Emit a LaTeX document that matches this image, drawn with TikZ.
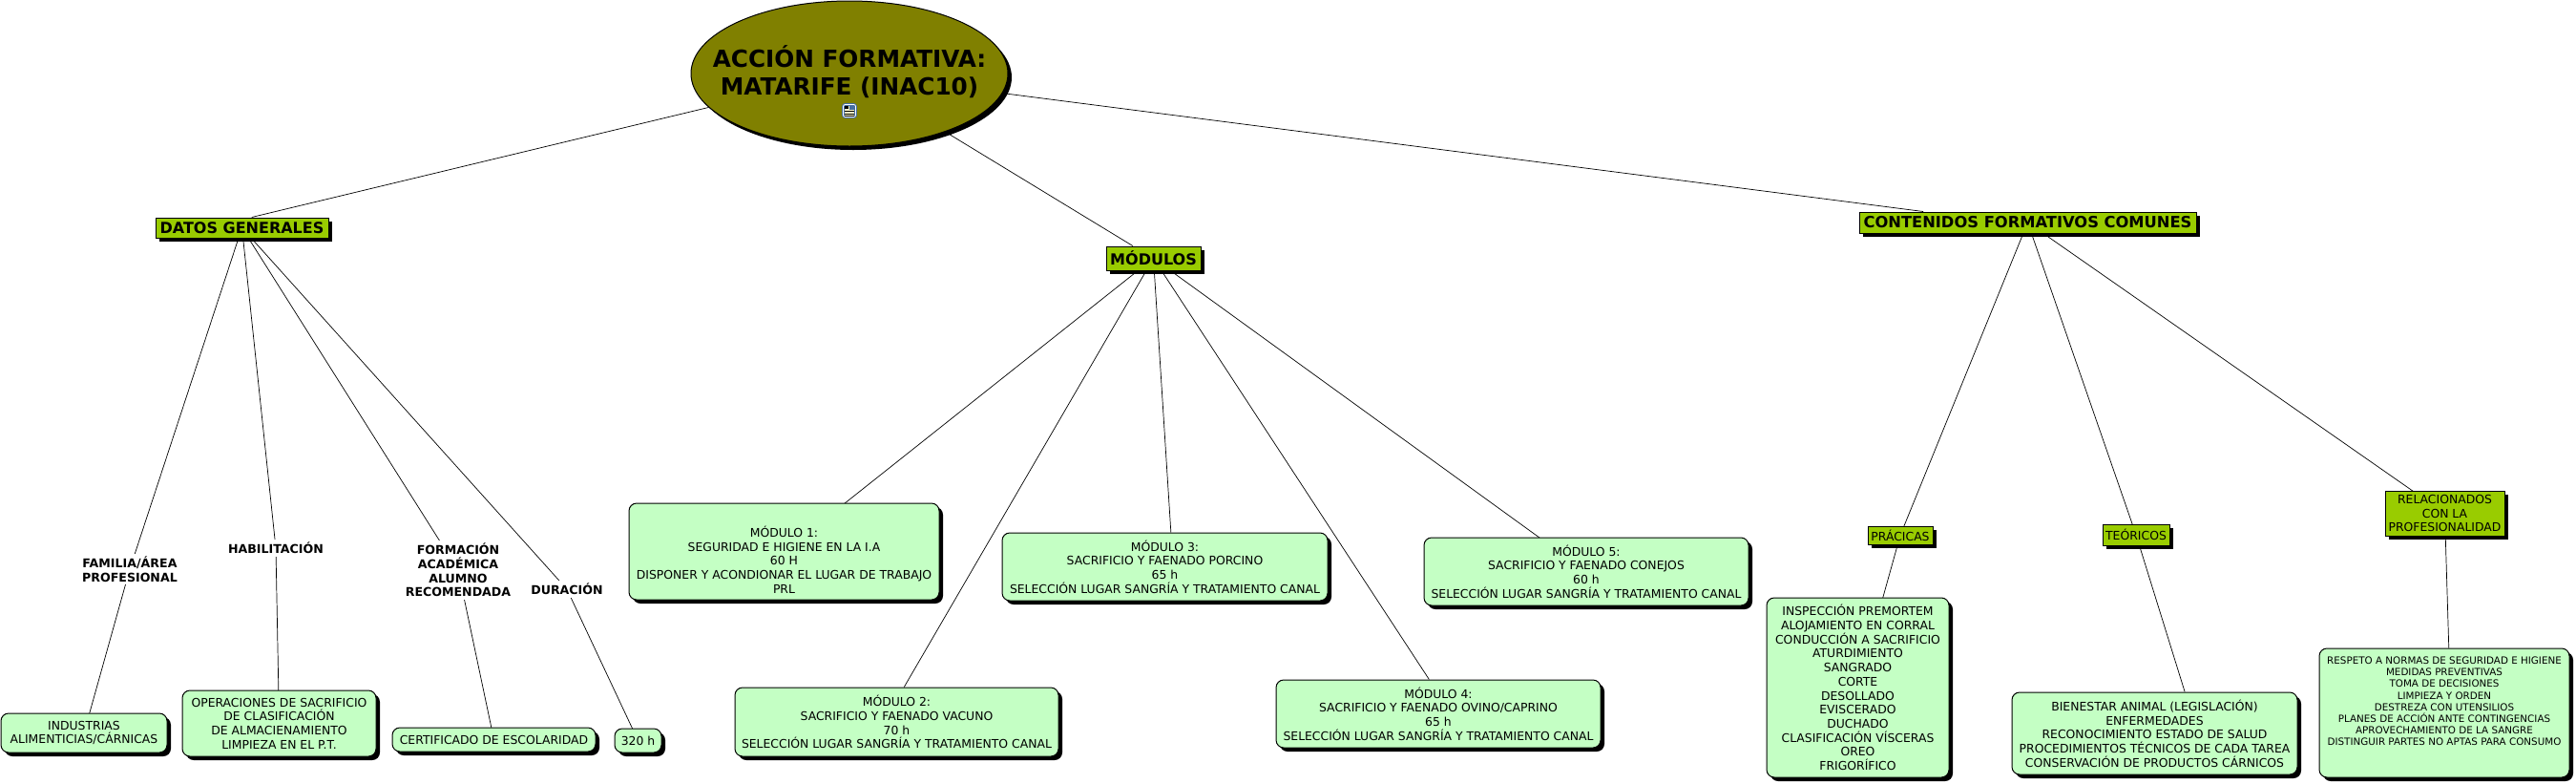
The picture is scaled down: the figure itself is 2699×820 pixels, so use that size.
\documentclass[tikz,border=0pt]{standalone}
\usepackage{fontspec}
\setmainfont{DejaVu Sans}
\usetikzlibrary{arrows.meta, shapes.geometric, shadows, backgrounds}
\definecolor{rootolive}{RGB}{128, 128, 0}
\definecolor{topicgreen}{RGB}{153, 204, 0}
\definecolor{leafgreen}{RGB}{196, 255, 196}
\definecolor{iconblue}{RGB}{70, 110, 160}
\definecolor{iconpaper}{RGB}{255, 250, 200}

\begin{document}
\begin{tikzpicture}[
  x=1pt, y=-1pt,
  every node/.style={inner sep=0pt, align=center, text=black},
  blackshadow/.style={drop shadow={shadow xshift=4pt, shadow yshift=-4pt, fill=black, opacity=1}},
  rootnode/.style={ellipse, draw=black, line width=1pt, fill=rootolive, blackshadow, minimum width=332pt, minimum height=152pt},
  topic/.style={draw=black, line width=1pt, fill=topicgreen, blackshadow, font=\fontsize{16.3}{19}\selectfont\bfseries},
  subtopic/.style={draw=black, line width=1pt, fill=topicgreen, blackshadow, font=\fontsize{12.4}{14.67}\selectfont},
  leaf/.style={draw=black, line width=1pt, fill=leafgreen, rounded corners=8pt, blackshadow, font=\fontsize{12.4}{14.67}\selectfont},
  linkword/.style={fill=white, inner xsep=1pt, inner ysep=3pt, font=\fontsize{12.6}{14.67}\selectfont\bfseries},
  conn/.style={line width=0.7pt, black}
]
  \useasboundingbox (0,0) rectangle (2699,820);

  % Root
  \node[rootnode] (root) at (890,77) {};
  \node[font=\fontsize{24.7}{29}\selectfont\bfseries] (title) at (890,75.5) {ACCIÓN FORMATIVA:\\MATARIFE (INAC10)};
  \node[draw=iconblue, line width=1pt, fill=iconpaper, double=white, double distance=0.8pt, rounded corners=2pt, minimum size=13pt] (icon) at (890,116) {};
  \fill[iconblue] (890,110.5) rectangle (895.5,115);
  \fill[black] (885,110.5) rectangle (889,114);
  \fill[black] (885,116) rectangle (895,117);
  \fill[black] (885,118.5) rectangle (895,119.5);
  \fill[black] (885,121) rectangle (895,122);

  % Main topics
  \node[topic, font=\fontsize{16}{19}\selectfont\bfseries, minimum width=181pt, minimum height=21pt] (datos) at (253.5,238.5) {DATOS GENERALES};
  \node[topic, font=\fontsize{16}{19}\selectfont\bfseries, minimum width=99pt, minimum height=25pt] (modulos) at (1208.5,270.5) {MÓDULOS};
  \node[topic, minimum width=353pt, minimum height=22pt] (contenidos) at (2124.5,233) {CONTENIDOS FORMATIVOS COMUNES};

  % Datos generales
  \node[linkword] (familia) at (136,596) {FAMILIA/ÁREA\\PROFESIONAL};
  \node[linkword] (habilitacion) at (289,574) {HABILITACIÓN};
  \node[linkword] (formacion) at (480,597) {FORMACIÓN\\ACADÉMICA\\ALUMNO\\RECOMENDADA};
  \node[linkword] (duracion) at (594,617) {DURACIÓN};

  \node[leaf, minimum width=174pt, minimum height=41pt] (industrias) at (88,767.5) {INDUSTRIAS\\ALIMENTICIAS/CÁRNICAS};
  \node[leaf, minimum width=203pt, minimum height=69pt] (operaciones) at (292.5,757.5) {OPERACIONES DE SACRIFICIO\\DE CLASIFICACIÓN\\DE ALMACIENAMIENTO\\LIMPIEZA EN EL P.T.};
  \node[leaf, minimum width=213pt, minimum height=25pt] (certificado) at (517.5,774.5) {CERTIFICADO DE ESCOLARIDAD};
  \node[leaf, minimum width=49pt, minimum height=25pt] (horas) at (668.5,775.5) {320 h};

  % Modulos
  \node[leaf, minimum width=325pt, minimum height=101pt] (mod1) at (821.5,577.5) {~\\[14pt]MÓDULO 1:\\SEGURIDAD E HIGIENE EN LA I.A\\60 H\\DISPONER Y ACONDIONAR EL LUGAR DE TRABAJO\\PRL};
  \node[leaf, minimum width=339pt, minimum height=72pt] (mod2) at (939.5,756) {MÓDULO 2:\\SACRIFICIO Y FAENADO VACUNO\\70 h\\SELECCIÓN LUGAR SANGRÍA Y TRATAMIENTO CANAL};
  \node[leaf, minimum width=341pt, minimum height=71pt] (mod3) at (1220.5,593.5) {MÓDULO 3:\\SACRIFICIO Y FAENADO PORCINO\\65 h\\SELECCIÓN LUGAR SANGRÍA Y TRATAMIENTO CANAL};
  \node[leaf, minimum width=340pt, minimum height=71pt] (mod4) at (1507,747.5) {MÓDULO 4:\\SACRIFICIO Y FAENADO OVINO/CAPRINO\\65 h\\SELECCIÓN LUGAR SANGRÍA Y TRATAMIENTO CANAL};
  \node[leaf, minimum width=340pt, minimum height=71pt] (mod5) at (1662,598.5) {MÓDULO 5:\\SACRIFICIO Y FAENADO CONEJOS\\60 h\\SELECCIÓN LUGAR SANGRÍA Y TRATAMIENTO CANAL};

  % Contenidos formativos
  \node[subtopic, minimum width=68pt, minimum height=19pt] (practicas) at (1991,560.5) {PRÁCICAS};
  \node[subtopic, minimum width=70pt, minimum height=22pt] (teoricos) at (2238,560) {TEÓRICOS};
  \node[subtopic, minimum width=125pt, minimum height=47pt] (relacionados) at (2561.5,537.5) {RELACIONADOS\\CON LA\\PROFESIONALIDAD};

  \node[leaf, minimum width=191pt, minimum height=188pt] (inspeccion) at (1946.5,720) {INSPECCIÓN PREMORTEM\\ALOJAMIENTO EN CORRAL\\CONDUCCIÓN A SACRIFICIO\\ATURDIMIENTO\\SANGRADO\\CORTE\\DESOLLADO\\EVISCERADO\\DUCHADO\\CLASIFICACIÓN VÍSCERAS\\OREO\\FRIGORÍFICO};
  \node[leaf, minimum width=299pt, minimum height=86pt] (bienestar) at (2257.5,768) {BIENESTAR ANIMAL (LEGISLACIÓN)\\ENFERMEDADES\\RECONOCIMIENTO ESTADO DE SALUD\\PROCEDIMIENTOS TÉCNICOS DE CADA TAREA\\CONSERVACIÓN DE PRODUCTOS CÁRNICOS};
  \node[leaf, font=\fontsize{10.35}{12.2}\selectfont, minimum width=262pt, minimum height=135pt] (respeto) at (2561,746.5) {RESPETO A NORMAS DE SEGURIDAD E HIGIENE\\MEDIDAS PREVENTIVAS\\TOMA DE DECISIONES\\LIMPIEZA Y ORDEN\\DESTREZA CON UTENSILIOS\\PLANES DE ACCIÓN ANTE CONTINGENCIAS\\APROVECHAMIENTO DE LA SANGRE\\DISTINGUIR PARTES NO APTAS PARA CONSUMO\\~\\~};

  % Connectors go under the boxes
  \begin{scope}[on background layer]
    \draw[conn] (root) -- (datos.47);
    \draw[conn] (root) -- (modulos.149);
    \draw[conn] (root) -- (contenidos.174);

    \draw[conn] (datos.center) -- (familia.center);
    \draw[conn] (datos.center) -- (habilitacion.center);
    \draw[conn] (datos.center) -- (formacion.center);
    \draw[conn] (datos.center) -- (duracion.center);
    \draw[conn] (familia.center) -- (industrias.center);
    \draw[conn] (habilitacion.center) -- (operaciones.center);
    \draw[conn] (formacion.center) -- (certificado.center);
    \draw[conn] (duracion.center) -- (horas.center);

    \draw[conn] (modulos.center) -- (mod1.center);
    \draw[conn] (modulos.center) -- (mod2.78);
    \draw[conn] (modulos.center) -- (mod3.80);
    \draw[conn] (modulos.center) -- (mod4.105);
    \draw[conn] (modulos.center) -- (mod5.center);

    \draw[conn] (contenidos.center) -- (practicas.center);
    \draw[conn] (contenidos.center) -- (teoricos.center);
    \draw[conn] (contenidos.center) -- (relacionados.center);
    \draw[conn] (practicas.center) -- (inspeccion.center);
    \draw[conn] (teoricos.center) -- (bienestar.54);
    \draw[conn] (relacionados.center) -- (respeto.86);
  \end{scope}
\end{tikzpicture}
\end{document}
